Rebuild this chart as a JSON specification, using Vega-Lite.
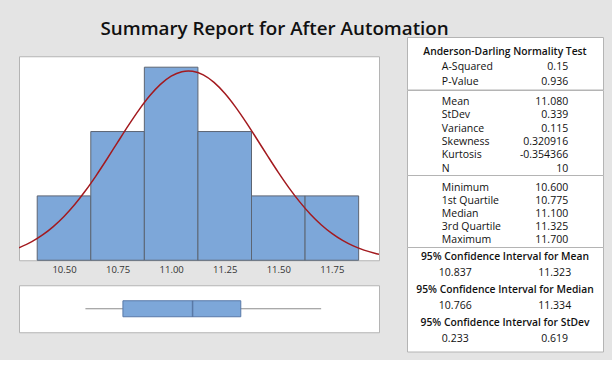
{
  "$schema": "https://vega.github.io/schema/vega-lite/v6.json",
  "background": "#e4e4e4",
  "padding": {"left": 18, "top": 19, "right": 8, "bottom": 8},
  "title": {"text": "Summary Report for After Automation", "anchor": "start", "dx": 82, "dy": 2, "fontSize": 18.8, "font": "Open Sans", "fontWeight": 600, "color": "#111111", "offset": 0},
  "datasets": {
    "hist": [
      {"bin_start": 10.375, "bin_end": 10.625, "count": 1},
      {"bin_start": 10.625, "bin_end": 10.875, "count": 2},
      {"bin_start": 10.875, "bin_end": 11.125, "count": 3},
      {"bin_start": 11.125, "bin_end": 11.375, "count": 2},
      {"bin_start": 11.375, "bin_end": 11.625, "count": 1},
      {"bin_start": 11.625, "bin_end": 11.875, "count": 1}
    ],
    "curve": [
      {"x": 10.29, "density": 0.1948}, {"x": 10.35, "density": 0.2896}, {"x": 10.40, "density": 0.3936},
      {"x": 10.45, "density": 0.5233}, {"x": 10.50, "density": 0.6808}, {"x": 10.55, "density": 0.8667},
      {"x": 10.60, "density": 1.0797}, {"x": 10.65, "density": 1.3161}, {"x": 10.70, "density": 1.5697},
      {"x": 10.75, "density": 1.8318}, {"x": 10.80, "density": 2.0917}, {"x": 10.85, "density": 2.3372},
      {"x": 10.90, "density": 2.5552}, {"x": 10.95, "density": 2.7334}, {"x": 11.00, "density": 2.8612},
      {"x": 11.05, "density": 2.9305}, {"x": 11.08, "density": 2.9420}, {"x": 11.10, "density": 2.9369},
      {"x": 11.15, "density": 2.8799}, {"x": 11.20, "density": 2.7633}, {"x": 11.25, "density": 2.5944},
      {"x": 11.30, "density": 2.3834}, {"x": 11.35, "density": 2.1424}, {"x": 11.40, "density": 1.8844},
      {"x": 11.45, "density": 1.6218}, {"x": 11.50, "density": 1.3656}, {"x": 11.55, "density": 1.1252},
      {"x": 11.60, "density": 0.9072}, {"x": 11.65, "density": 0.7156}, {"x": 11.70, "density": 0.5525},
      {"x": 11.75, "density": 0.4174}, {"x": 11.80, "density": 0.3084}, {"x": 11.85, "density": 0.2230},
      {"x": 11.90, "density": 0.1578}, {"x": 11.95, "density": 0.1093}, {"x": 11.97, "density": 0.0938}
    ],
    "box": [
      {"variable": "After Automation", "min": 10.6, "q1": 10.775, "median": 11.1, "q3": 11.325, "max": 11.7}
    ],
    "s1": [
      {"row": 1, "kind": "head", "label": "Anderson-Darling Normality Test", "value": ""},
      {"row": 2, "kind": "stat", "label": "A-Squared", "value": "0.15"},
      {"row": 3, "kind": "stat", "label": "P-Value", "value": "0.936"}
    ],
    "s2": [
      {"row": 1, "label": "Mean", "value": "11.080"},
      {"row": 2, "label": "StDev", "value": "0.339"},
      {"row": 3, "label": "Variance", "value": "0.115"},
      {"row": 4, "label": "Skewness", "value": "0.320916"},
      {"row": 5, "label": "Kurtosis", "value": "-0.354366"},
      {"row": 6, "label": "N", "value": "10"}
    ],
    "s3": [
      {"row": 1, "label": "Minimum", "value": "10.600"},
      {"row": 2, "label": "1st Quartile", "value": "10.775"},
      {"row": 3, "label": "Median", "value": "11.100"},
      {"row": 4, "label": "3rd Quartile", "value": "11.325"},
      {"row": 5, "label": "Maximum", "value": "11.700"}
    ],
    "s4": [
      {"row": 1, "kind": "head", "label": "95% Confidence Interval for Mean", "lower": "", "upper": ""},
      {"row": 2, "kind": "vals", "label": "", "lower": "10.837", "upper": "11.323"},
      {"row": 3, "kind": "head", "label": "95% Confidence Interval for Median", "lower": "", "upper": ""},
      {"row": 4, "kind": "vals", "label": "", "lower": "10.766", "upper": "11.334"},
      {"row": 5, "kind": "head", "label": "95% Confidence Interval for StDev", "lower": "", "upper": ""},
      {"row": 6, "kind": "vals", "label": "", "lower": "0.233", "upper": "0.619"}
    ]
  },
  "hconcat": [
    {
      "vconcat": [
        {
          "width": 360,
          "height": 204,
          "layer": [
            {
              "data": {"name": "hist"},
              "mark": {"type": "rect", "fill": "#7DA7D9", "stroke": "#5c6573", "strokeWidth": 1},
              "encoding": {
                "x": {"field": "bin_start", "type": "quantitative",
                      "scale": {"domain": [10.29, 11.97], "nice": false, "zero": false},
                      "axis": {"values": [10.5, 10.75, 11, 11.25, 11.5, 11.75], "format": ".2f", "domain": false, "ticks": false, "tickSize": 0, "grid": false, "labelPadding": 4, "labelFontSize": 9.5, "labelColor": "#333333", "title": null}},
                "x2": {"field": "bin_end"},
                "y": {"field": "count", "type": "quantitative", "scale": {"domain": [0, 3.17], "nice": false}, "axis": null},
                "y2": {"datum": 0}
              }
            },
            {
              "data": {"name": "curve"},
              "mark": {"type": "line", "color": "#A31A1F", "strokeWidth": 1.5, "clip": true, "interpolate": "monotone"},
              "encoding": {
                "x": {"field": "x", "type": "quantitative"},
                "y": {"field": "density", "type": "quantitative"}
              }
            }
          ]
        },
        {
          "width": 360,
          "height": 47,
          "data": {"name": "box"},
          "encoding": {
            "y": {"field": "variable", "type": "nominal", "axis": null}
          },
          "layer": [
            {
              "mark": {"type": "rule", "color": "#8c8c8c", "strokeWidth": 1},
              "encoding": {
                "x": {"field": "min", "type": "quantitative", "scale": {"domain": [10.29, 11.97], "nice": false, "zero": false}, "axis": null},
                "x2": {"field": "max"}
              }
            },
            {
              "mark": {"type": "bar", "size": 16, "fill": "#7DA7D9", "stroke": "#5878a8", "strokeWidth": 1},
              "encoding": {
                "x": {"field": "q1", "type": "quantitative"},
                "x2": {"field": "q3"}
              }
            },
            {
              "mark": {"type": "tick", "size": 16, "thickness": 1.5, "color": "#4a6590"},
              "encoding": {
                "x": {"field": "median", "type": "quantitative"}
              }
            }
          ]
        }
      ],
      "spacing": 10
    },
    {
      "vconcat": [
        {
          "width": 196,
          "height": 52.5,
          "data": {"name": "s1"},
          "encoding": {
            "y": {"field": "row", "type": "ordinal", "axis": null, "scale": {"type": "point", "padding": 0.75, "align": 0.68}}
          },
          "layer": [
            {
              "transform": [{"filter": "datum.kind == 'head'"}],
              "mark": {"type": "text", "align": "center", "baseline": "middle", "fontSize": 10.3, "fontWeight": 600, "color": "#111111"},
              "encoding": {"text": {"field": "label"}}
            },
            {
              "transform": [{"filter": "datum.kind == 'stat'"}],
              "mark": {"type": "text", "align": "left", "baseline": "middle", "fontSize": 10.5, "color": "#111111"},
              "encoding": {
                "x": {"datum": "label", "type": "nominal", "scale": {"type": "point", "domain": ["label", "value"], "padding": 0.276}, "axis": null},
                "text": {"field": "label"}
              }
            },
            {
              "transform": [{"filter": "datum.kind == 'stat'"}],
              "mark": {"type": "text", "align": "right", "baseline": "middle", "fontSize": 10.5, "color": "#111111"},
              "encoding": {
                "x": {"datum": "value", "type": "nominal"},
                "text": {"field": "value"}
              }
            }
          ]
        },
        {
          "width": 196,
          "height": 85,
          "data": {"name": "s2"},
          "encoding": {
            "y": {"field": "row", "type": "ordinal", "axis": null, "scale": {"type": "point", "padding": 0.695, "align": 0.65}}
          },
          "layer": [
            {
              "mark": {"type": "text", "align": "left", "baseline": "middle", "fontSize": 10.5, "color": "#111111"},
              "encoding": {
                "x": {"datum": "label", "type": "nominal", "scale": {"type": "point", "domain": ["label", "value"], "padding": 0.276}, "axis": null},
                "text": {"field": "label"}
              }
            },
            {
              "mark": {"type": "text", "align": "right", "baseline": "middle", "fontSize": 10.5, "color": "#111111"},
              "encoding": {
                "x": {"datum": "value", "type": "nominal"},
                "text": {"field": "value"}
              }
            }
          ]
        },
        {
          "width": 196,
          "height": 72,
          "data": {"name": "s3"},
          "encoding": {
            "y": {"field": "row", "type": "ordinal", "axis": null, "scale": {"type": "point", "padding": 0.76, "align": 0.66}}
          },
          "layer": [
            {
              "mark": {"type": "text", "align": "left", "baseline": "middle", "fontSize": 10.5, "color": "#111111"},
              "encoding": {
                "x": {"datum": "label", "type": "nominal", "scale": {"type": "point", "domain": ["label", "value"], "padding": 0.276}, "axis": null},
                "text": {"field": "label"}
              }
            },
            {
              "mark": {"type": "text", "align": "right", "baseline": "middle", "fontSize": 10.5, "color": "#111111"},
              "encoding": {
                "x": {"datum": "value", "type": "nominal"},
                "text": {"field": "value"}
              }
            }
          ]
        },
        {
          "width": 196,
          "height": 104.5,
          "data": {"name": "s4"},
          "encoding": {
            "y": {"field": "row", "type": "ordinal", "axis": null, "scale": {"type": "point", "padding": 0.667, "align": 0.445}}
          },
          "layer": [
            {
              "transform": [{"filter": "datum.kind == 'head'"}],
              "mark": {"type": "text", "align": "center", "baseline": "middle", "fontSize": 10.3, "fontWeight": 600, "color": "#111111"},
              "encoding": {"text": {"field": "label"}}
            },
            {
              "transform": [{"filter": "datum.kind == 'vals'"}],
              "mark": {"type": "text", "align": "center", "baseline": "middle", "fontSize": 10.5, "color": "#111111"},
              "encoding": {
                "x": {"datum": "lower", "type": "nominal", "scale": {"type": "point", "domain": ["lower", "upper"], "padding": 0.485}, "axis": null},
                "text": {"field": "lower"}
              }
            },
            {
              "transform": [{"filter": "datum.kind == 'vals'"}],
              "mark": {"type": "text", "align": "center", "baseline": "middle", "fontSize": 10.5, "color": "#111111"},
              "encoding": {
                "x": {"datum": "upper", "type": "nominal"},
                "text": {"field": "upper"}
              }
            }
          ]
        }
      ],
      "spacing": 0,
      "bounds": "flush"
    }
  ],
  "spacing": 26,
  "center": true,
  "config": {
    "font": "Open Sans",
    "view": {"fill": "white", "stroke": "#b4b4b4", "strokeWidth": 1}
  }
}
